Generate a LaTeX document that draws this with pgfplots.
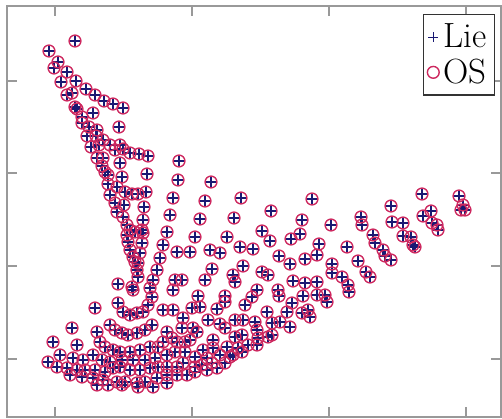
\documentclass[border=0pt]{standalone}
\usepackage{pgfplots}
\usepackage{pgfplotstable}
\pgfplotsset{compat=1.18}
\definecolor{liecol}{RGB}{25,25,115}
\definecolor{oscol}{RGB}{205,40,95}
\pgfplotstableread{
x y
75 41
49 51
58 62
54 68
67 72
61 82
76 81
72 93
67 95
86 89
95 95
104 101
113 104
123 108
75 107
77 109
93 113
82 117
82 123
89 127
119 127
97 130
87 136
96 136
103 140
91 147
99 145
110 145
120 145
115 150
123 149
130 153
139 154
148 156
97 158
103 158
120 163
179 161
102 166
105 172
108 175
122 177
147 174
178 180
108 184
117 187
125 192
132 194
138 194
146 192
173 198
110 195
115 203
124 205
144 207
117 212
123 217
143 220
170 215
127 225
130 230
135 232
142 230
143 233
167 232
127 235
128 242
142 243
163 245
177 252
130 250
133 257
135 262
140 253
138 263
160 258
137 270
157 270
138 277
118 284
132 287
133 290
153 280
150 288
152 297
175 280
173 290
95 308
118 303
123 312
130 315
137 313
143 312
148 305
163 310
173 310
72 328
110 325
115 330
122 333
128 335
137 333
145 330
152 325
167 332
97 332
53 342
77 345
100 342
105 347
113 350
120 352
130 352
140 350
150 347
158 347
163 342
172 338
177 342
60 355
73 358
83 360
93 355
102 360
110 362
122 360
133 360
145 360
155 358
167 355
175 352
48 362
57 367
67 368
77 370
85 370
95 370
105 372
113 368
120 367
130 370
140 370
150 368
158 367
167 367
177 367
70 375
82 377
93 378
103 380
117 382
125 382
137 383
145 382
157 378
167 375
177 375
97 385
108 385
122 385
138 387
153 387
167 383
211 182
205 201
241 198
200 219
234 218
271 211
312 199
302 220
195 237
227 237
262 231
270 241
291 239
300 234
319 244
190 252
210 250
220 253
240 247
253 249
279 256
305 259
317 255
212 269
243 266
290 264
205 280
233 275
235 282
262 272
268 275
293 281
305 283
317 282
182 280
198 296
225 296
225 302
257 290
252 297
278 290
279 296
303 296
317 295
325 295
327 302
192 308
200 307
217 309
245 305
267 312
292 303
287 312
302 313
308 310
310 317
183 318
208 320
220 324
225 328
235 320
243 320
255 322
272 323
280 322
290 327
193 328
197 332
213 340
235 337
242 335
257 330
258 338
268 337
272 335
182 328
185 342
190 340
203 350
213 348
227 347
238 348
248 345
257 345
185 352
195 357
207 358
220 355
233 355
242 352
183 363
195 367
202 365
212 363
225 363
230 357
187 375
195 372
207 370
217 368
422 194
459 196
463 205
461 210
465 210
391 206
361 217
362 225
392 222
403 223
423 216
431 211
432 223
437 225
438 230
331 225
373 235
375 243
403 236
411 237
413 245
415 247
347 247
383 250
385 256
391 260
358 261
366 272
370 277
332 264
342 277
348 285
349 292
332 273
}\pts
\begin{document}
\begin{tikzpicture}
\begin{axis}[
  scale only axis,
  width=247pt, height=205.5pt,
  xmin=7, xmax=501,
  ymin=6, ymax=417,
  y dir=reverse,
  xtick={55,192,329,466},
  ytick={81,173,266,359},
  xticklabels={}, yticklabels={},
  tick align=inside,
  major tick length=5pt,
  axis line style={draw=gray!80, line width=0.8pt},
  every tick/.style={gray!80, line width=0.6pt},
  legend style={at={(1,1)}, anchor=north east, xshift=-3pt, yshift=-4pt,
    draw=black!80, line width=0.7pt, font=\fontsize{17.5}{21}\selectfont,
    inner xsep=2pt, inner ysep=2.5pt, row sep=0pt},
  legend cell align=left,
  legend image code/.code={\draw[mark repeat=2,mark phase=2] plot coordinates {(0cm,0cm) (0.12cm,0cm) (0.24cm,0cm)};},
]
\addplot[only marks, mark=+, mark size=2.4pt, color=liecol, line width=0.6pt] table {\pts};
\addlegendentry{Lie}
\addplot[only marks, mark=o, mark size=2.95pt, color=oscol, line width=0.7pt] table {\pts};
\addlegendentry{OS}
\coordinate (bl) at (axis cs:7,417);
\coordinate (tr) at (axis cs:501,6);
\end{axis}
\pgfresetboundingbox
\path ([xshift=-3.5pt,yshift=-0.5pt]bl) rectangle ([xshift=0.5pt,yshift=3pt]tr);
\end{tikzpicture}
\end{document}
